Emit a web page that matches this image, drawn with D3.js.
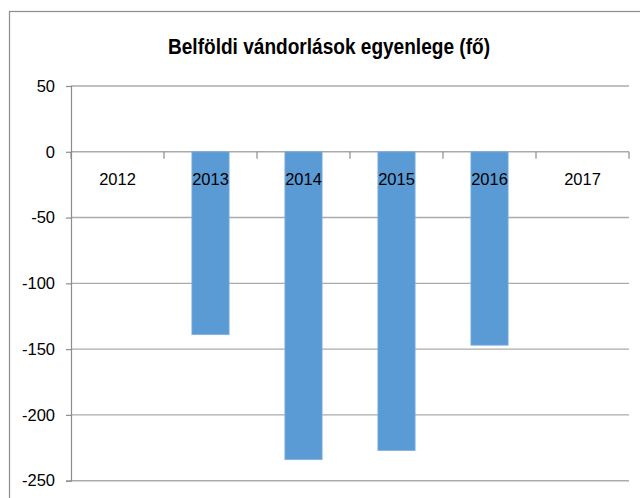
<!DOCTYPE html>
<html>
<head>
<meta charset="utf-8">
<script src="https://cdn.jsdelivr.net/npm/d3@7"></script>
<style>
  body { margin: 0; background: #fff; }
  svg text { fill: #000; }
</style>
</head>
<body>
<div id="chart"></div>
<script>
// Chart data
var years = ["2012", "2013", "2014", "2015", "2016", "2017"];
var balance = [0, -139, -234, -227, -147, 0];
var yTicks = [50, 0, -50, -100, -150, -200, -250];
var titleText = "Belföldi vándorlások egyenlege (fő)";

var W = 640, H = 498;
var plot = { left: 71, right: 629, top: 86, bottom: 480.7 };

var svg = d3.select("#chart").append("svg")
    .attr("width", W)
    .attr("height", H);

// outer frame (runs off the right and bottom edges)
svg.append("rect")
    .attr("x", 9.5).attr("y", 11.5)
    .attr("width", 700).attr("height", 600)
    .attr("fill", "#fff")
    .attr("stroke", "#8c8c8c")
    .attr("stroke-width", 1.2);

// title (squeezed to the narrow width of the original)
svg.append("text")
    .attr("x", 329).attr("y", 54)
    .attr("text-anchor", "middle")
    .attr("textLength", 322)
    .attr("lengthAdjust", "spacingAndGlyphs")
    .style("font-family", "'Liberation Sans', Arial, sans-serif")
    .style("font-weight", "bold")
    .style("font-size", "22.5px")
    .text(titleText);

var x = d3.scaleBand().domain(years).range([plot.left, plot.right]).paddingInner(0.6).paddingOuter(0.3);
var xEdge = d3.scaleBand().domain(years).range([plot.left, plot.right]);
var y = d3.scaleLinear().domain([-250, 50]).range([plot.bottom, plot.top]);

// gridlines
svg.append("g")
    .selectAll("line")
    .data(yTicks)
    .enter().append("line")
    .attr("x1", plot.left).attr("x2", plot.right)
    .attr("y1", function(d) { return y(d); })
    .attr("y2", function(d) { return y(d); })
    .attr("stroke", "#ababab")
    .attr("stroke-width", 1.4);

// bars
svg.append("g")
    .selectAll("rect")
    .data(balance)
    .enter().append("rect")
    .attr("x", function(d, i) { return x(years[i]); })
    .attr("width", x.bandwidth())
    .attr("y", function(d) { return Math.min(y(d), y(0)); })
    .attr("height", function(d) { return Math.abs(y(d) - y(0)); })
    .attr("fill", "#5b9bd5")
    .attr("stroke", "#7fb0de")
    .attr("stroke-width", 0.8);

// y axis, plain hyphen for negatives like the original
var yAxis = svg.append("g")
    .attr("transform", "translate(" + plot.left + ",0)")
    .call(d3.axisLeft(y).tickValues(yTicks).tickSize(5).tickPadding(11).tickFormat(function(d) { return String(d); }));
yAxis.select(".domain").attr("stroke", "#8c8c8c").attr("stroke-width", 1.2);
yAxis.selectAll(".tick line").attr("stroke", "#8c8c8c").attr("stroke-width", 1.2);
yAxis.selectAll("text")
    .style("font-family", "'Liberation Sans', Arial, sans-serif")
    .style("font-size", "16.5px");

// category boundary ticks along the zero line
svg.append("g")
    .selectAll("line")
    .data(years.concat(["end"]))
    .enter().append("line")
    .attr("x1", function(d, i) { return plot.left + i * xEdge.step(); })
    .attr("x2", function(d, i) { return plot.left + i * xEdge.step(); })
    .attr("y1", y(0)).attr("y2", y(0) + 7)
    .attr("stroke", "#8c8c8c")
    .attr("stroke-width", 1.2);

// x axis labels at zero
var xAxis = svg.append("g")
    .attr("transform", "translate(0," + y(0) + ")")
    .call(d3.axisBottom(xEdge).tickSize(0).tickPadding(22));
xAxis.select(".domain").remove();
xAxis.selectAll("text")
    .style("font-family", "'Liberation Sans', Arial, sans-serif")
    .style("font-size", "16.5px");
</script>
</body>
</html>
